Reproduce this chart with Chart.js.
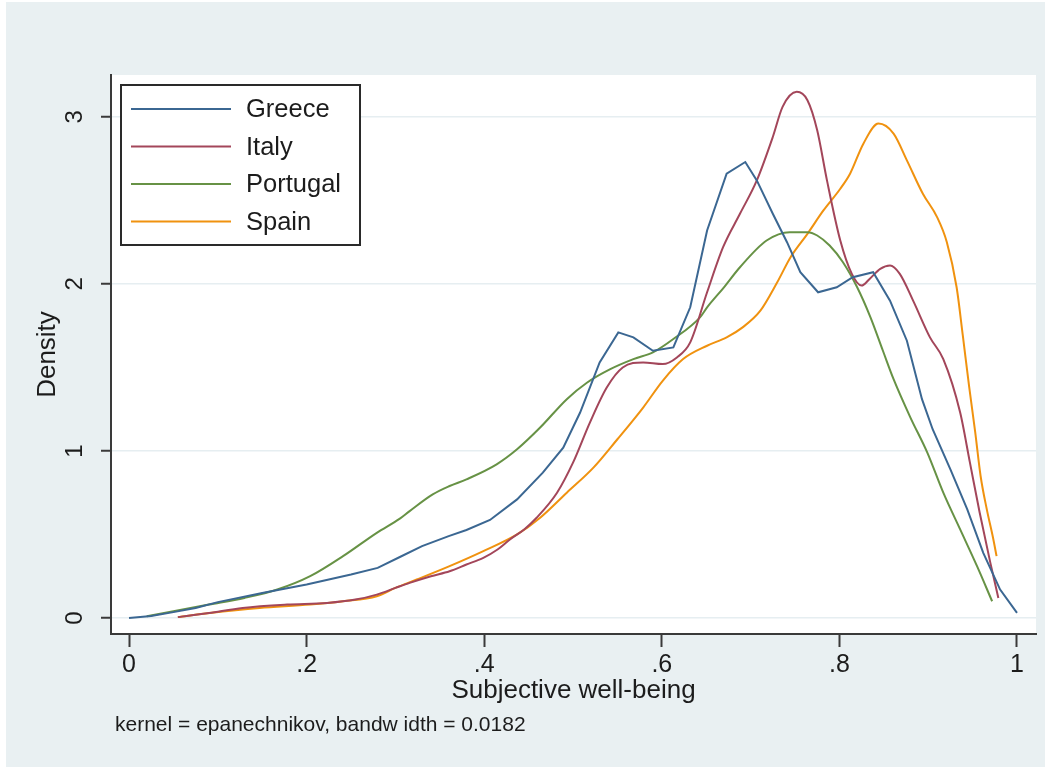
<!DOCTYPE html>
<html>
<head>
<meta charset="utf-8">
<script src="https://cdn.jsdelivr.net/npm/chart.js@4.4.1/dist/chart.umd.min.js"></script>
<style>
  html, body { margin: 0; padding: 0; background: #ffffff; }
  #wrap { width: 1046px; height: 767px; }
</style>
</head>
<body>
<div id="wrap"><canvas id="c" width="1046" height="767"></canvas></div>
<script>
// Kernel density estimates of subjective well-being, by country
const greeceX = [0, 0.025, 0.05, 0.075, 0.1, 0.15, 0.2, 0.25, 0.28, 0.305, 0.33, 0.36, 0.38, 0.4065, 0.437, 0.466, 0.489, 0.508, 0.530, 0.551, 0.568, 0.590, 0.613, 0.632, 0.651, 0.673, 0.694, 0.707, 0.725, 0.741, 0.756, 0.776, 0.797, 0.815, 0.838, 0.857, 0.876, 0.893, 0.905, 0.925, 0.944, 0.962, 0.981, 1.0];
const greeceY = [0, 0.012, 0.035, 0.06, 0.095, 0.15, 0.20, 0.26, 0.30, 0.365, 0.43, 0.49, 0.527, 0.587, 0.71, 0.87, 1.02, 1.23, 1.53, 1.71, 1.68, 1.60, 1.62, 1.86, 2.32, 2.66, 2.73, 2.62, 2.42, 2.25, 2.07, 1.95, 1.98, 2.04, 2.07, 1.90, 1.66, 1.31, 1.13, 0.89, 0.65, 0.39, 0.17, 0.03];

const italyX = [0.055, 0.09, 0.128, 0.178, 0.223, 0.255, 0.279, 0.3, 0.316, 0.34, 0.361, 0.38, 0.399, 0.415, 0.429, 0.445, 0.459, 0.482, 0.5, 0.519, 0.538, 0.556, 0.579, 0.601, 0.617, 0.632, 0.651, 0.669, 0.688, 0.707, 0.725, 0.736, 0.752, 0.764, 0.775, 0.786, 0.801, 0.814, 0.825, 0.834, 0.846, 0.857, 0.868, 0.883, 0.902, 0.917, 0.936, 0.947, 0.958, 0.97, 0.979];
const italyY = [0.005, 0.03, 0.06, 0.08, 0.09, 0.11, 0.14, 0.18, 0.21, 0.25, 0.28, 0.32, 0.36, 0.41, 0.47, 0.53, 0.60, 0.75, 0.93, 1.17, 1.38, 1.50, 1.53, 1.52, 1.56, 1.65, 1.95, 2.22, 2.42, 2.62, 2.88, 3.06, 3.15, 3.10, 2.92, 2.62, 2.26, 2.06, 1.99, 2.03, 2.09, 2.11, 2.06, 1.90, 1.68, 1.55, 1.23, 0.93, 0.63, 0.33, 0.12];

const portugalX = [0.02, 0.05, 0.09, 0.13, 0.167, 0.204, 0.241, 0.279, 0.305, 0.316, 0.342, 0.361, 0.38, 0.414, 0.437, 0.463, 0.493, 0.516, 0.542, 0.568, 0.590, 0.613, 0.643, 0.651, 0.67, 0.688, 0.718, 0.744, 0.764, 0.775, 0.789, 0.804, 0.820, 0.835, 0.849, 0.861, 0.880, 0.899, 0.917, 0.936, 0.955, 0.972];
const portugalY = [0.01, 0.04, 0.08, 0.12, 0.17, 0.25, 0.37, 0.51, 0.595, 0.64, 0.74, 0.79, 0.83, 0.92, 1.01, 1.14, 1.31, 1.41, 1.49, 1.55, 1.59, 1.67, 1.80, 1.86, 1.98, 2.10, 2.26, 2.31, 2.31, 2.29, 2.23, 2.13, 1.98, 1.80, 1.60, 1.43, 1.20, 0.99, 0.75, 0.53, 0.31, 0.10];

const spainX = [0.055, 0.091, 0.147, 0.204, 0.241, 0.279, 0.30, 0.324, 0.361, 0.399, 0.437, 0.463, 0.493, 0.523, 0.550, 0.579, 0.601, 0.624, 0.651, 0.673, 0.691, 0.711, 0.730, 0.745, 0.764, 0.782, 0.801, 0.812, 0.827, 0.844, 0.861, 0.876, 0.894, 0.910, 0.921, 0.932, 0.939, 0.946, 0.953, 0.959, 0.966, 0.973, 0.977];
const spainY = [0.005, 0.03, 0.06, 0.08, 0.10, 0.13, 0.18, 0.23, 0.31, 0.40, 0.50, 0.60, 0.75, 0.90, 1.07, 1.26, 1.42, 1.55, 1.63, 1.68, 1.74, 1.84, 2.01, 2.16, 2.30, 2.44, 2.57, 2.66, 2.84, 2.96, 2.90, 2.74, 2.54, 2.40, 2.25, 1.98, 1.69, 1.39, 1.11, 0.85, 0.65, 0.48, 0.37];

const countries = ['Greece', 'Italy', 'Portugal', 'Spain'];
const xTickValues = [0, 0.2, 0.4, 0.6, 0.8, 1];
const xTickLabels = ['0', '.2', '.4', '.6', '.8', '1'];
const yTickValues = [0, 1, 2, 3];
const yTickLabels = ['0', '1', '2', '3'];

const FONT = "'Liberation Sans', Arial, sans-serif";
const TEXT = '#1c1c1c';
const AXIS = '#3a3a3a';

function pairs(xs, ys) { return xs.map((x, i) => ({ x: x, y: ys[i] })); }

const seriesStyle = [
  { color: '#3b6792', tension: 0 },
  { color: '#a3465a', tension: 0.4 },
  { color: '#679245', tension: 0.4 },
  { color: '#f0920f', tension: 0.4 }
];
const seriesData = [pairs(greeceX, greeceY), pairs(italyX, italyY), pairs(portugalX, portugalY), pairs(spainX, spainY)];

const datasets = countries.map((name, i) => ({
  label: name,
  data: seriesData[i],
  borderColor: seriesStyle[i].color,
  borderWidth: 2,
  pointRadius: 0,
  fill: false,
  tension: seriesStyle[i].tension,
  cubicInterpolationMode: i === 0 ? 'default' : 'monotone'
}));

// Panel backgrounds: bluish outer frame, white plot region
const backdrop = {
  id: 'backdrop',
  beforeDraw(chart) {
    const { ctx, chartArea: a } = chart;
    ctx.save();
    ctx.fillStyle = '#ffffff';
    ctx.fillRect(0, 0, chart.width, chart.height);
    ctx.fillStyle = '#e9f0f2';
    ctx.fillRect(6, 2, chart.width - 7, chart.height - 2);
    ctx.fillStyle = '#ffffff';
    ctx.fillRect(a.left, a.top, a.right - a.left, a.bottom - a.top);
    ctx.restore();
  }
};

// Vertical (bottom-to-top) y tick labels
const yLabels = {
  id: 'yLabels',
  afterDraw(chart) {
    const { ctx } = chart;
    const ys = chart.scales.y;
    ctx.save();
    ctx.fillStyle = TEXT;
    ctx.font = '24px ' + FONT;
    ctx.textAlign = 'center';
    ctx.textBaseline = 'middle';
    yTickValues.forEach((v, i) => {
      const py = ys.getPixelForValue(v);
      ctx.save();
      ctx.translate(ys.right - 36, py);
      ctx.rotate(-Math.PI / 2);
      ctx.fillText(yTickLabels[i], 0, 0);
      ctx.restore();
    });
    ctx.restore();
  }
};

// Boxed legend in the upper-left corner of the plot region
const boxLegend = {
  id: 'boxLegend',
  afterDatasetsDraw(chart) {
    const { ctx, chartArea: a } = chart;
    const left = a.left + 10, top = a.top + 10, w = 239, h = 160;
    ctx.save();
    ctx.fillStyle = '#ffffff';
    ctx.fillRect(left, top, w, h);
    ctx.strokeStyle = '#2a2a2a';
    ctx.lineWidth = 2;
    ctx.strokeRect(left, top, w, h);
    ctx.font = '25.5px ' + FONT;
    ctx.textBaseline = 'middle';
    ctx.textAlign = 'left';
    chart.data.datasets.forEach((ds, i) => {
      const y = top + 24 + i * 37.5;
      ctx.strokeStyle = ds.borderColor;
      ctx.lineWidth = 2;
      ctx.beginPath();
      ctx.moveTo(left + 10, y);
      ctx.lineTo(left + 110, y);
      ctx.stroke();
      ctx.fillStyle = TEXT;
      ctx.fillText(ds.label, left + 125, y + 1);
    });
    ctx.restore();
  }
};

// Estimation note beneath the axis title
const note = {
  id: 'note',
  afterDraw(chart) {
    const { ctx } = chart;
    ctx.save();
    ctx.fillStyle = TEXT;
    ctx.font = '21px ' + FONT;
    ctx.textBaseline = 'middle';
    ctx.textAlign = 'left';
    ctx.fillText('kernel = epanechnikov, bandw idth = 0.0182', 115, 725);
    ctx.restore();
  }
};

new Chart(document.getElementById('c'), {
  type: 'line',
  data: { datasets: datasets },
  plugins: [backdrop, yLabels, boxLegend, note],
  options: {
    responsive: false,
    animation: false,
    events: [],
    layout: { padding: { top: 75, right: 10, bottom: 0, left: 0 } },
    plugins: { legend: { display: false }, tooltip: { enabled: false } },
    scales: {
      x: {
        type: 'linear',
        min: -0.0203,
        max: 1.0214,
        afterBuildTicks(scale) { scale.ticks = xTickValues.map(v => ({ value: v })); },
        afterFit(scale) { scale.height = 133; },
        ticks: {
          autoSkip: false,
          maxRotation: 0,
          padding: 3,
          color: TEXT,
          font: { family: FONT, size: 25 },
          callback: (v, i) => xTickLabels[i]
        },
        grid: {
          drawOnChartArea: false,
          drawTicks: true,
          tickLength: 13,
          tickColor: AXIS,
          tickWidth: 2
        },
        border: { display: true, color: AXIS, width: 2 },
        title: {
          display: true,
          text: 'Subjective well-being',
          color: TEXT,
          font: { family: FONT, size: 26 },
          padding: { top: 0, bottom: 61 }
        }
      },
      y: {
        type: 'linear',
        min: -0.096,
        max: 3.251,
        afterBuildTicks(scale) { scale.ticks = yTickValues.map(v => ({ value: v })); },
        afterFit(scale) { scale.width = 111; },
        ticks: { display: false },
        grid: {
          drawOnChartArea: true,
          color: '#e6eef1',
          lineWidth: 1.5,
          drawTicks: true,
          tickLength: 10,
          tickColor: AXIS,
          tickWidth: 2
        },
        border: { display: true, color: AXIS, width: 2 },
        title: {
          display: true,
          text: 'Density',
          color: TEXT,
          font: { family: FONT, size: 26 },
          padding: { top: 32, bottom: 0 }
        }
      }
    }
  }
});
</script>
</body>
</html>
